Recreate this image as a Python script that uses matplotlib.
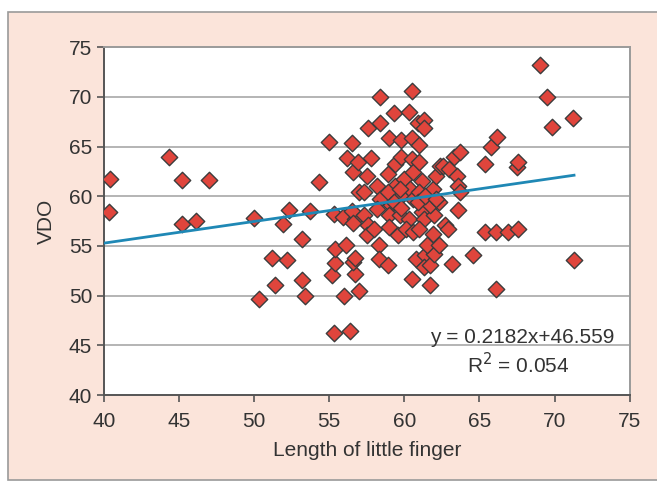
import numpy as np
import matplotlib.pyplot as plt
from matplotlib.patches import Rectangle

plt.rcParams['font.family'] = ['Liberation Sans', 'DejaVu Sans']

# Length of little finger (x) and VDO (y)
finger = [40.4, 40.3, 44.3, 45.2, 45.2, 46.1, 47.0, 54.3, 50.0, 50.3,
          51.2, 51.4, 51.9, 52.3, 52.2, 53.2, 53.2, 53.4, 53.7, 55.0,
          55.3, 56.4, 55.2, 55.4, 55.4, 55.3, 55.9, 56.1, 56.0, 57.0,
          56.7, 56.6, 56.7, 56.5, 56.2, 56.6, 57.0, 56.9, 56.7, 56.5,
          56.6, 57.6, 58.4, 58.4, 57.8, 57.5, 57.3, 57.3, 57.6, 57.5,
          58.0, 58.3, 58.3, 58.9, 59.3, 59.0, 59.4, 59.4, 58.2, 58.4,
          58.9, 59.1, 59.0, 59.0, 59.6, 59.7, 59.8, 60.0, 59.8, 59.8,
          60.3, 60.5, 60.5, 60.5, 60.6, 60.4, 60.6, 60.3, 60.1, 60.6,
          60.5, 60.8, 60.9, 61.3, 61.3, 61.0, 61.0, 61.2, 61.0, 61.2,
          61.3, 61.0, 61.4, 61.3, 61.7, 61.7, 62.0, 61.9, 62.0, 61.7,
          61.9, 62.1, 62.4, 62.3, 62.7, 62.9, 62.6, 63.0, 63.2, 63.3,
          63.5, 63.6, 63.7, 63.6, 63.7, 64.6, 65.4, 65.8, 66.2, 65.4,
          66.1, 66.9, 67.6, 66.1, 67.5, 67.6, 69.0, 69.5, 69.8, 71.2,
          71.3, 59.3, 59.7, 58.9, 60.9, 61.4, 62.1, 59.8, 58.2, 61.5,
          62.3]
vdo = [61.7, 58.4, 64.0, 61.6, 57.2, 57.5, 61.6, 61.4, 57.8, 49.7,
       53.8, 51.1, 57.2, 58.6, 53.6, 55.7, 51.6, 50.0, 58.5, 65.5,
       46.2, 46.4, 52.1, 53.3, 54.7, 58.2, 57.9, 55.1, 50.0, 50.5,
       52.2, 53.4, 53.8, 65.4, 63.9, 62.4, 60.4, 63.4, 57.7, 58.5,
       57.3, 66.9, 70.0, 67.4, 63.8, 62.0, 60.4, 58.1, 57.1, 56.1,
       56.7, 55.1, 53.7, 53.1, 68.4, 65.9, 63.2, 61.0, 61.0, 59.7,
       60.4, 59.1, 58.1, 56.9, 56.1, 58.1, 60.0, 61.7, 64.0, 65.7,
       68.5, 70.6, 65.9, 63.7, 62.4, 60.7, 59.7, 57.7, 56.7, 56.4,
       51.7, 53.7, 67.4, 67.7, 66.9, 65.2, 63.4, 61.5, 60.4, 58.4,
       57.7, 56.7, 54.1, 52.9, 53.1, 51.1, 54.2, 56.2, 58.1, 59.1,
       60.7, 62.0, 63.0, 59.4, 57.1, 56.7, 63.0, 62.7, 53.2, 64.0,
       62.0, 61.0, 60.4, 58.6, 64.5, 54.1, 63.2, 65.0, 66.0, 56.4,
       56.4, 56.4, 56.7, 50.7, 62.9, 63.4, 73.2, 70.0, 67.0, 67.9,
       53.6, 59.4, 60.7, 62.2, 59.4, 60.0, 59.7, 58.8, 58.7, 55.1,
       55.1]

# Trendline as printed on the chart
slope = 0.2182
intercept = 46.559
r_squared = 0.054

x_ticks = [40, 45, 50, 55, 60, 65, 70, 75]
y_ticks = [40, 45, 50, 55, 60, 65, 70, 75]

fig = plt.figure(figsize=(6.57, 4.86), dpi=100)
fig.patch.set_facecolor("white")
# pink panel behind the chart
fig.patches.append(Rectangle((0.012, 0.012), 1.0, 0.963, transform=fig.transFigure,
                             facecolor="#fbe4da", edgecolor="#9a9a9a", linewidth=1.2,
                             zorder=-10))

ax = fig.add_axes([0.1583, 0.187, 0.800, 0.716])
ax.set_facecolor("white")

for y in y_ticks[1:-1]:
    ax.axhline(y, color="#b4b4b4", linewidth=1.4, zorder=1)

ax.scatter(finger, vdo, marker="D", s=70, facecolor="#e0453c",
           edgecolor="#3c3c3c", linewidth=1.0, zorder=3)

line_x = np.array([min(x_ticks), max(finger)])
ax.plot(line_x, slope * line_x + intercept, color="#1f88b5", linewidth=2.0, zorder=4)

ax.text(74.0, 45.8, f"y = {slope}x+{intercept}", ha="right", va="center",
        fontsize=15, color="#333333", zorder=5)
ax.text(67.6, 43.1, f"R$^2$ = {r_squared}", ha="center", va="center",
        fontsize=15, color="#333333", zorder=5)

ax.set_xlim(40, 75)
ax.set_ylim(40, 75)
ax.set_xticks(x_ticks)
ax.set_yticks(y_ticks)
ax.tick_params(direction="out", length=5, width=1.2, colors="#555555",
               labelcolor="#333333", labelsize=15)
ax.tick_params(axis="x", pad=7)
for side in ["top", "right"]:
    ax.spines[side].set_color("#9a9a9a")
    ax.spines[side].set_linewidth(1.4)
for side in ["left", "bottom"]:
    ax.spines[side].set_color("#555555")
    ax.spines[side].set_linewidth(1.4)

ax.set_xlabel("Length of little finger", fontsize=15, color="#333333", labelpad=7)
ax.set_ylabel("VDO", fontsize=15, color="#333333", labelpad=9)

fig.savefig("out.png", dpi=100)
